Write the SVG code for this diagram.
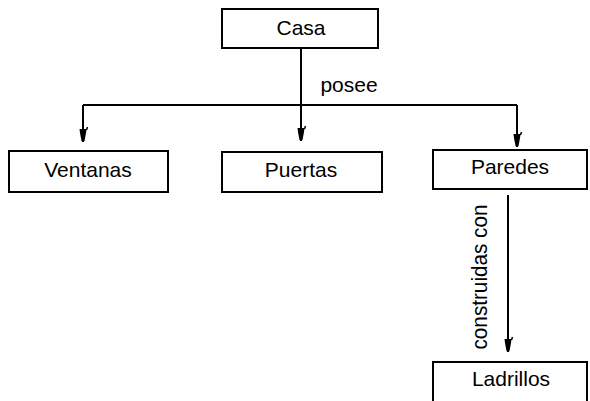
<svg xmlns="http://www.w3.org/2000/svg" width="590" height="401" viewBox="0 0 590 401">
<style>
.box{fill:#fff;stroke:#000;stroke-width:2}
.lbl{font-family:"Liberation Sans",Arial,sans-serif;font-size:21px;fill:#000;text-anchor:middle}
.edge{fill:none;stroke:#000;stroke-width:2}
</style>
<defs>
<marker id="ah" markerUnits="userSpaceOnUse" markerWidth="20" markerHeight="14" viewBox="-16 -7 20 14" refX="0" refY="0" orient="auto">
<path d="M-13,-3.5 L-9,-3 L-1,-1.5 L0,0 L-1,1.5 L-9,3 L-13,3.5 Z" fill="#000"/>
<path d="M-15,-4.5 L-12,-3.5" stroke="#000" stroke-width="1.5"/>
</marker>
</defs>
<rect width="590" height="401" fill="#fff"/>
<g id="connectors">
<path class="edge" d="M301,48 V141" marker-end="url(#ah)"/>
<path class="edge" d="M83,105 H517"/>
<path class="edge" d="M83,105 V142" marker-end="url(#ah)"/>
<path class="edge" d="M517,105 V147" marker-end="url(#ah)"/>
<path class="edge" d="M508,195 V352" marker-end="url(#ah)"/>
<text class="lbl" x="349" y="92">posee</text>
<text class="lbl" transform="translate(487,277) rotate(-90)" style="font-size:22px" textLength="145" lengthAdjust="spacingAndGlyphs">construidas con</text>
</g>
<g id="casa">
<rect class="box" x="222" y="9" width="156" height="39"/>
<text class="lbl" x="301" y="35">Casa</text>
</g>
<g id="ventanas">
<rect class="box" x="9" y="151" width="159" height="41"/>
<text class="lbl" x="88" y="177">Ventanas</text>
</g>
<g id="puertas">
<rect class="box" x="222" y="152" width="160" height="40"/>
<text class="lbl" x="301" y="177">Puertas</text>
</g>
<g id="paredes">
<rect class="box" x="433" y="150" width="154" height="39"/>
<text class="lbl" x="510" y="174">Paredes</text>
</g>
<g id="ladrillos">
<rect class="box" x="433" y="362" width="154" height="45"/>
<text class="lbl" x="511" y="386">Ladrillos</text>
</g>
</svg>
